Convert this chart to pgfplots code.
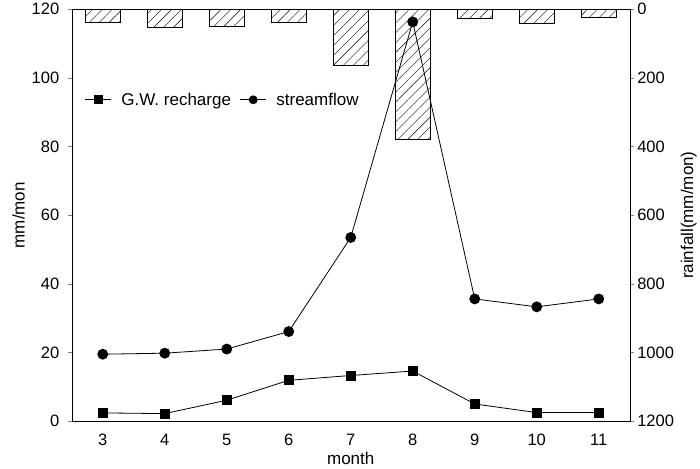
\documentclass[border=0pt]{standalone}
\usepackage{fontspec}
\setmainfont{Liberation Sans}
\usepackage{pgfplots}
\pgfplotsset{compat=1.18}
\usetikzlibrary{patterns.meta}

\begin{document}
\begin{tikzpicture}
\pgfplotsset{
  common/.style={
    width=558pt, height=412pt, scale only axis,
    xmin=2.5, xmax=11.5,
    tick align=outside, major tick length=4pt,
    tick label style={font=\fontsize{16.5}{19}\selectfont},
    label style={font=\fontsize{17}{19}\selectfont},
    /pgf/number format/assume math mode=true,
    /pgf/number format/1000 sep={},
  }
}
% rainfall bars hanging from the top (right axis, reversed)
\begin{axis}[common,
  axis y line*=right, axis x line=none,
  ymin=0, ymax=1200, y dir=reverse,
  ytick={0,200,...,1200},
  ylabel={rainfall(mm/mon)},
  ybar, bar width=0.56,
]
\addplot[draw=black, line width=0.8pt,
  pattern={Lines[angle=45,distance=7pt,line width=0.4pt]}]
  coordinates {(3,38) (4,52) (5,50) (6,38) (7,165) (8,378) (9,28) (10,40) (11,25)};
\end{axis}
% recharge and streamflow
\begin{axis}[common,
  ymin=0, ymax=120, ytick={0,20,...,120},
  xtick={3,...,11}, xtick style={draw=none},
  ytick pos=left, xtick pos=bottom,
  yticklabel style={xshift=-5pt},
  xticklabel style={yshift=-5pt},
  xlabel={month}, ylabel={mm/mon},
  legend style={at={(0.018,0.78)}, anchor=west, draw=none, fill=none,
    legend columns=2, font=\fontsize{17}{19}\selectfont,
    nodes={inner xsep=1pt},
    /tikz/every odd column/.append style={column sep=9pt},
    /tikz/every even column/.append style={column sep=8pt}},
  legend image code/.code={\draw[mark repeat=2,mark phase=2,mark size=4pt]
    plot coordinates {(0cm,0cm) (0.45cm,0cm) (0.9cm,0cm)};},
]
\addplot[black, line width=0.8pt, mark=square*, mark size=4.5pt]
  coordinates {(3,2.4) (4,2.2) (5,6.1) (6,11.9) (7,13.3) (8,14.6) (9,5.0) (10,2.5) (11,2.5)};
\addplot[black, line width=0.8pt, mark=*, mark size=5pt]
  coordinates {(3,19.5) (4,19.8) (5,21.0) (6,26.1) (7,53.5) (8,116.3) (9,35.6) (10,33.3) (11,35.6)};
\legend{G.W. recharge, streamflow}
\end{axis}
% white margin at the left, as in the reference
\path (current bounding box.west) ++(-9pt,0);
\end{tikzpicture}
\end{document}
